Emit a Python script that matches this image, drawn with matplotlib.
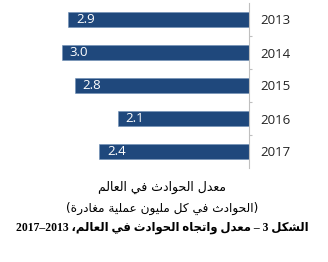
import re
import matplotlib
matplotlib.use("Agg")
import matplotlib.pyplot as plt

# ---------------- data ----------------
years = ["2013", "2014", "2015", "2016", "2017"]
rates = [2.9, 3.0, 2.8, 2.1, 2.4]
value_labels = ["2.9", "3.0", "2.8", "2.1", "2.4"]
title_line1 = "معدل الحوادث في العالم"
title_line2 = "(الحوادث في كل مليون عملية مغادرة)"
caption = "الشكل 3 – معدل واتجاه الحوادث في العالم، 2013–2017"

# ------------- minimal Arabic shaping (presentation forms + RTL order) -------------
FOUR = {'ب': 0xFE8F, 'ت': 0xFE95, 'ث': 0xFE99, 'ج': 0xFE9D, 'ح': 0xFEA1, 'خ': 0xFEA5,
        'س': 0xFEB1, 'ش': 0xFEB5, 'ص': 0xFEB9, 'ض': 0xFEBD, 'ط': 0xFEC1, 'ظ': 0xFEC5,
        'ع': 0xFEC9, 'غ': 0xFECD, 'ف': 0xFED1, 'ق': 0xFED5, 'ك': 0xFED9, 'ل': 0xFEDD,
        'م': 0xFEE1, 'ن': 0xFEE5, 'ه': 0xFEE9, 'ي': 0xFEF1, 'ئ': 0xFE89}
TWO = {'ا': 0xFE8D, 'د': 0xFEA9, 'ذ': 0xFEAB, 'ر': 0xFEAD, 'ز': 0xFEAF, 'و': 0xFEED,
       'ة': 0xFE93, 'ى': 0xFEEF, 'أ': 0xFE83, 'إ': 0xFE87, 'آ': 0xFE81, 'ؤ': 0xFE85}


def shape_word(s):
    out = []
    for i, c in enumerate(s):
        if c not in FOUR and c not in TWO:
            out.append(c)
            continue
        prev = s[i - 1] if i > 0 else ''
        nxt = s[i + 1] if i + 1 < len(s) else ''
        pj = prev in FOUR
        nj = (c in FOUR) and (nxt in FOUR or nxt in TWO)
        base = FOUR.get(c, TWO.get(c))
        if c in FOUR:
            off = 3 if (pj and nj) else 1 if pj else 2 if nj else 0
        else:
            off = 1 if pj else 0
        out.append(chr(base + off))
    return ''.join(out)


def rtl(text):
    shaped = shape_word(text)
    tokens = re.findall(r'[0-9A-Za-z.]+|[^0-9A-Za-z.]+', shaped)
    mirror = {'(': ')', ')': '('}
    vis = []
    for t in reversed(tokens):
        if re.match(r'[0-9A-Za-z.]', t):
            vis.append(t)
        else:
            vis.append(''.join(mirror.get(ch, ch) for ch in reversed(t)))
    return ''.join(vis)


# ---------------- figure ----------------
W, H = 328, 262
fig = plt.figure(figsize=(W / 100, H / 100), dpi=100)
fig.patch.set_facecolor('white')

ax_left, ax_right, ax_top, ax_bot = 40, 249, 3, 168
ax = fig.add_axes([ax_left / W, 1 - ax_bot / H, (ax_right - ax_left) / W, (ax_bot - ax_top) / H])

bar_color = '#1F487C'
pos = list(range(len(years)))
ax.barh(pos, rates, height=0.46, color=bar_color, edgecolor='#6f8fb5', linewidth=0.4)

px_per_unit = 62.3
ax.set_xlim((ax_right - ax_left) / px_per_unit, 0)
ax.set_ylim(len(years) - 0.5, -0.5)

for p, v, lab in zip(pos, rates, value_labels):
    ax.annotate(lab, (v, p), xytext=(5.5, 0), textcoords='offset points',
                ha='left', va='center', color='white', fontsize=9.5,
                family=['Open Sans', 'DejaVu Sans'])

for s in ['top', 'left', 'bottom']:
    ax.spines[s].set_visible(False)
ax.spines['right'].set_color('#bfbfbf')
ax.spines['right'].set_linewidth(0.8)
ax.set_xticks([])
ax.yaxis.tick_right()
ax.set_yticks(pos)
ax.set_yticklabels(years, fontsize=9.5, color='#222222', family=['Open Sans', 'DejaVu Sans'])
ax.tick_params(axis='y', which='major', length=0, pad=8.5)
ax.set_yticks([p + 0.5 for p in pos[:-1]], minor=True)
ax.tick_params(axis='y', which='minor', length=2.5, width=0.8, color='#bfbfbf', direction='out')

cx = 162 / W
fig.text(cx, 1 - 187 / H, rtl(title_line1), ha='center', va='center', fontsize=9,
         family=['DejaVu Sans'], color='black')
fig.text(cx, 1 - 208 / H, rtl(title_line2), ha='center', va='center', fontsize=8.7,
         family=['DejaVu Sans'], color='black')
fig.text(cx, 1 - 228 / H, rtl(caption), ha='center', va='center', fontsize=8.4,
         family=['Liberation Serif', 'DejaVu Sans'], weight='bold', color='black')

fig.savefig('out.png', dpi=100, facecolor='white')
